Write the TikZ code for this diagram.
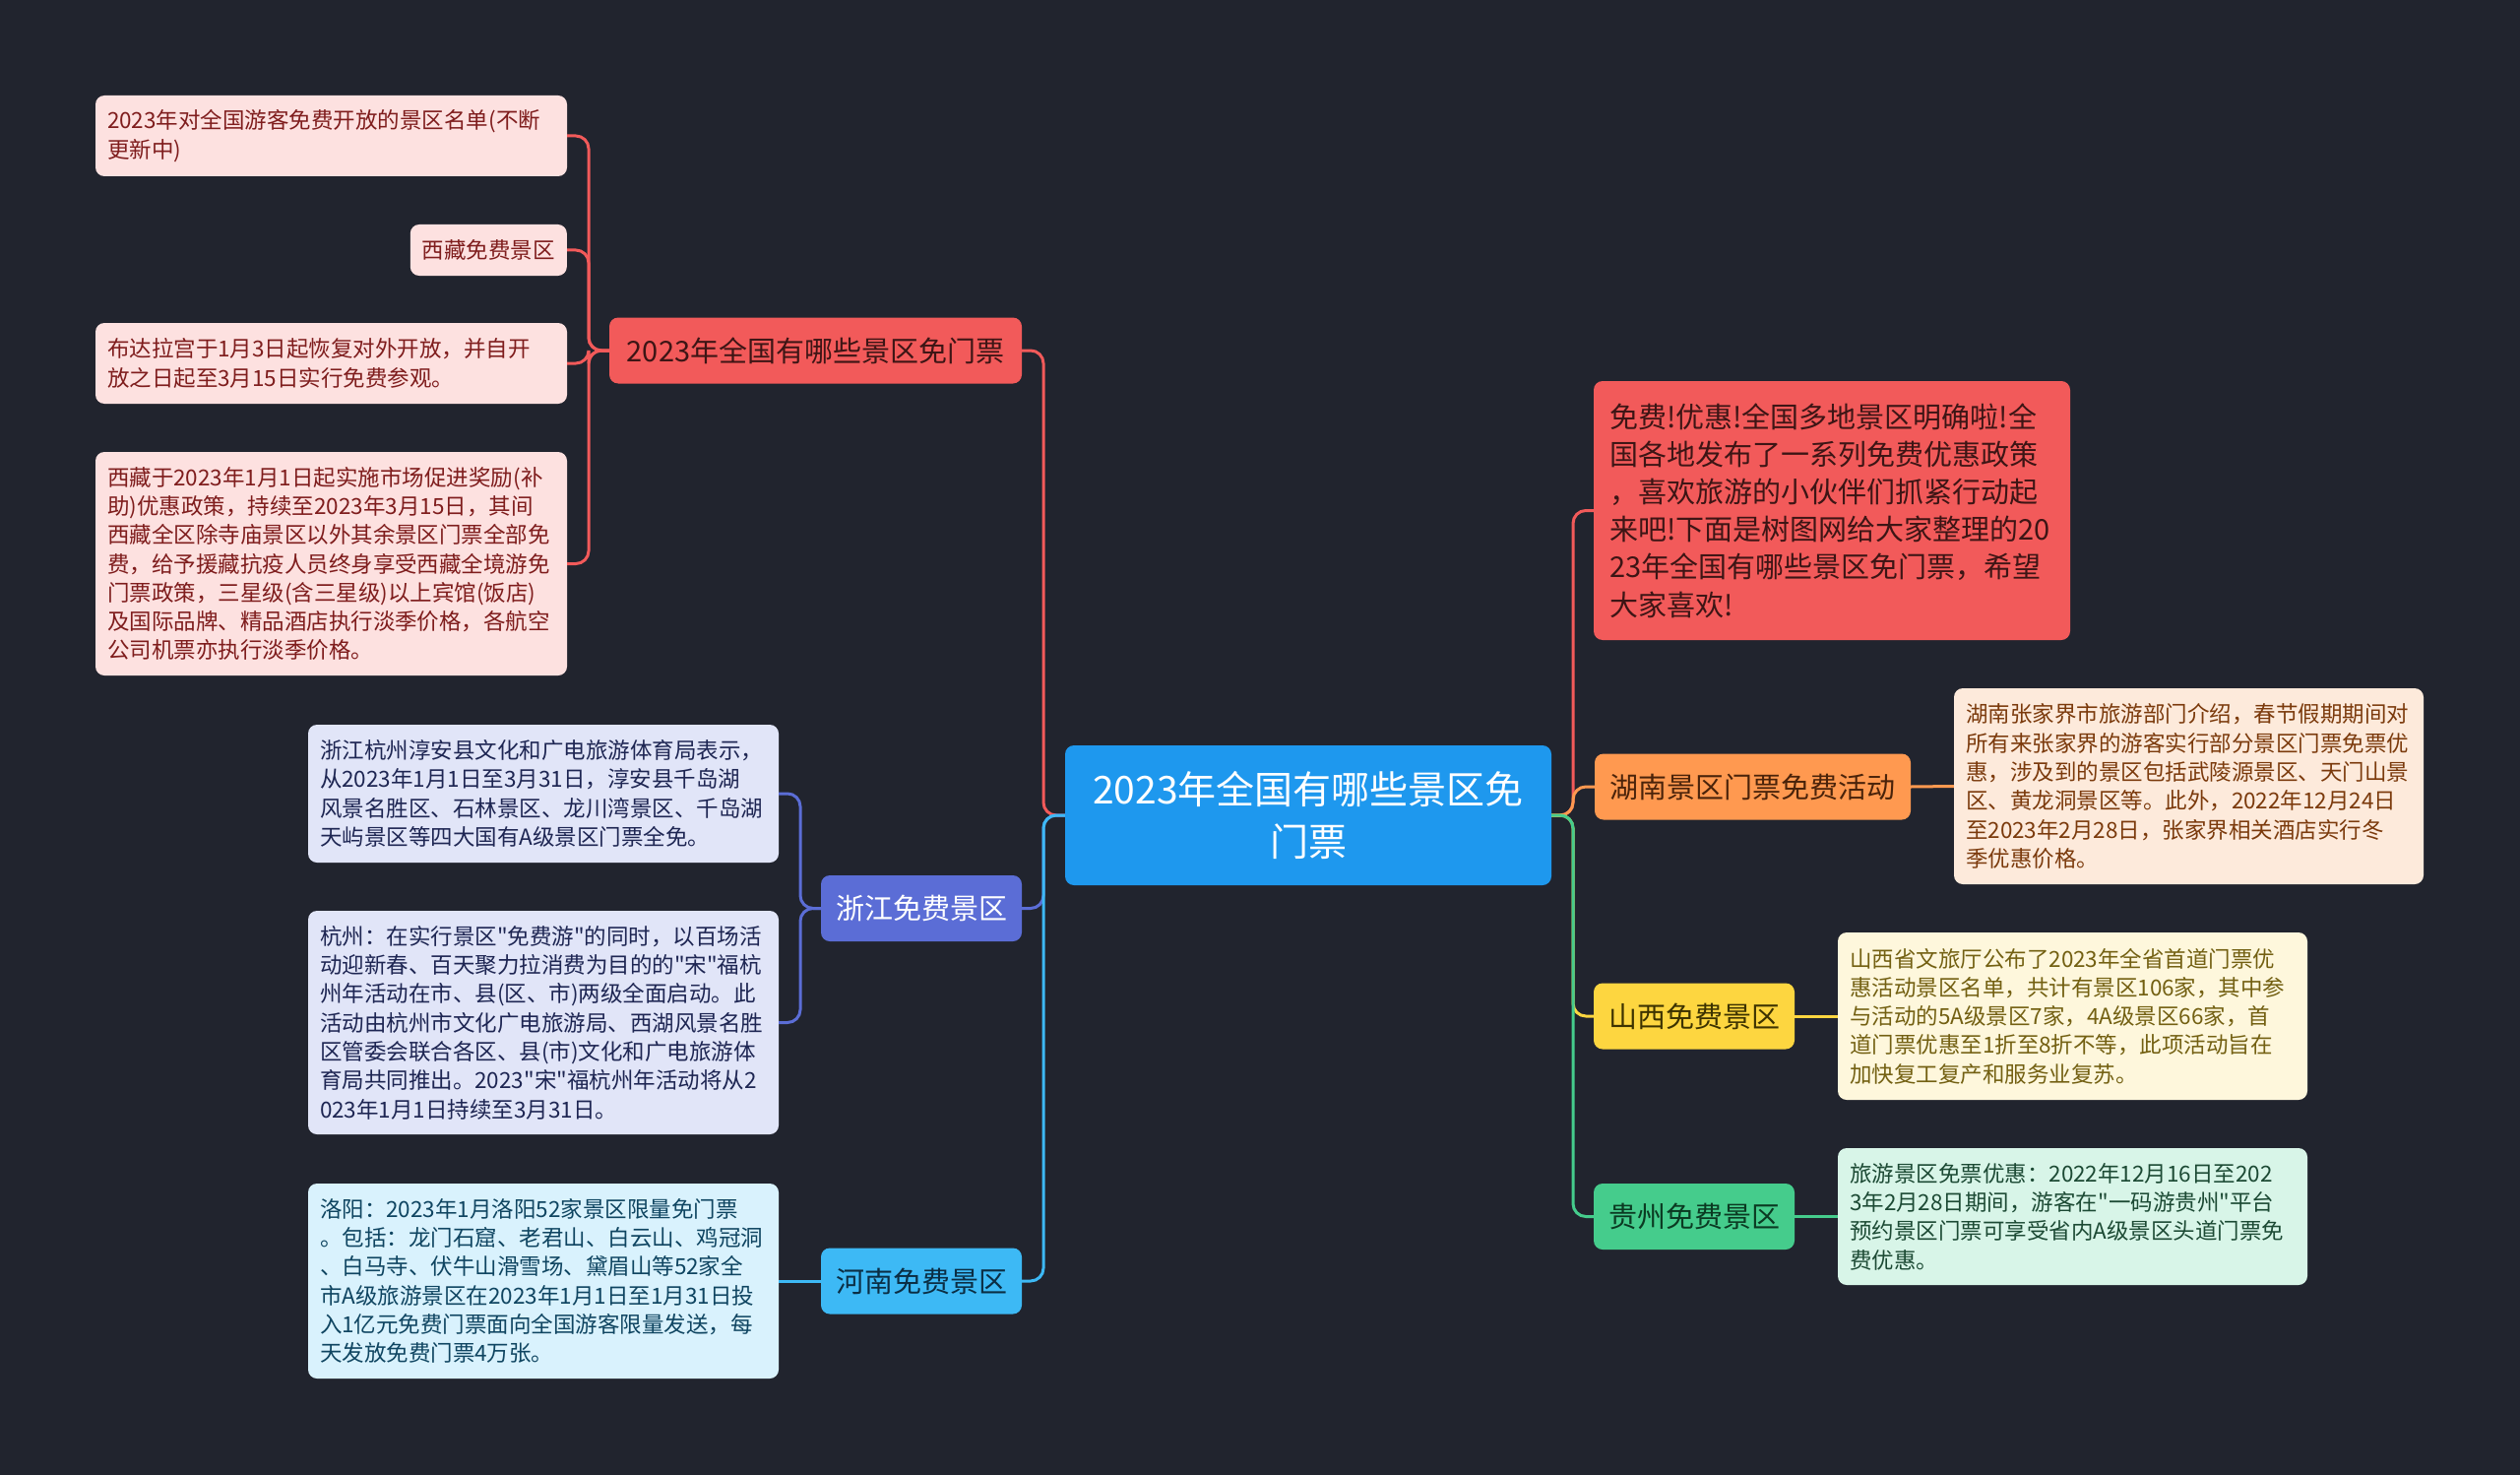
\documentclass[tikz,border=0pt]{standalone}
\usepackage{fontspec}
\setmainfont{Noto Sans CJK SC}
\newfontfamily\plainq{Noto Sans CJK SC}
\newcommand\qd{{\plainq"}}
\definecolor{bg}{HTML}{21242E}
\definecolor{rootc}{HTML}{1E98EE}
\definecolor{redc}{HTML}{F25A5A}
\definecolor{redt}{HTML}{3D1515}
\definecolor{pinkf}{HTML}{FDE1E0}
\definecolor{pinkt}{HTML}{7F1D1D}
\definecolor{indc}{HTML}{5B6DD6}
\definecolor{indf}{HTML}{E1E5F8}
\definecolor{indt}{HTML}{1E2653}
\definecolor{lbc}{HTML}{3DB9F5}
\definecolor{lbt}{HTML}{0B2E44}
\definecolor{lbf}{HTML}{D9F2FD}
\definecolor{lblt}{HTML}{0F4561}
\definecolor{orc}{HTML}{FF9950}
\definecolor{ort}{HTML}{4A230A}
\definecolor{orf}{HTML}{FDEADB}
\definecolor{orlt}{HTML}{7B3A0C}
\definecolor{yec}{HTML}{FDD640}
\definecolor{yet}{HTML}{3D3300}
\definecolor{yef}{HTML}{FEF7DC}
\definecolor{yelt}{HTML}{736012}
\definecolor{grc}{HTML}{45CC8C}
\definecolor{grt}{HTML}{0B3A22}
\definecolor{grf}{HTML}{D8F5E8}
\definecolor{grlt}{HTML}{1C4A34}
\tikzset{
  box/.style={rounded corners=9pt, inner ysep=0pt, anchor=center},
  leaf/.style={box, inner xsep=12pt, align=left, font=\fontsize{22.5}{29.3}\selectfont},
  branchbox/.style={box, inner xsep=0pt, align=center, minimum height=67pt, font=\fontsize{29}{34}\selectfont},
  link/.style={line width=3pt, rounded corners=13pt},
}
\begin{document}
\begin{tikzpicture}[x=1pt,y=-1pt]
\useasboundingbox (0,0) rectangle (2560,1498);
\fill[bg] (0,0) rectangle (2560,1498);

% root
\node[box, fill=rootc, text=white, align=center, minimum width=494pt, minimum height=142pt,
  font=\fontsize{39}{53}\selectfont] (root) at (1329,828) {2023年全国有哪些景区免\\门票};

% left branch 1
\node[branchbox, fill=redc, text=redt, minimum width=419pt] (b1) at (828.5,356) {2023年全国有哪些景区免门票};
\node[leaf, fill=pinkf, text=pinkt, text width=455pt, minimum height=82pt] (l1a) at (336.5,138)
  {2023年对全国游客免费开放的景区名单(不断\\更新中)};
\node[leaf, fill=pinkf, text=pinkt, minimum height=52pt, anchor=east] (l1b) at (576,254) {西藏免费景区};
\node[leaf, fill=pinkf, text=pinkt, text width=455pt, minimum height=82pt] (l1c) at (336.5,369)
  {布达拉宫于1月3日起恢复对外开放，并自开\\放之日起至3月15日实行免费参观。};
\node[leaf, fill=pinkf, text=pinkt, text width=455pt, minimum height=227pt] (l1d) at (336.5,572.5)
  {西藏于2023年1月1日起实施市场促进奖励(补\\助)优惠政策，持续至2023年3月15日，其间\\西藏全区除寺庙景区以外其余景区门票全部免\\费，给予援藏抗疫人员终身享受西藏全境游免\\门票政策，三星级(含三星级)以上宾馆(饭店)\\及国际品牌、精品酒店执行淡季价格，各航空\\公司机票亦执行淡季价格。};

% zhejiang
\node[branchbox, fill=indc, text=white, minimum width=204pt] (zjb) at (936,922.5) {浙江免费景区};
\node[leaf, fill=indf, text=indt, text width=454pt, minimum height=140pt] (zj1) at (552,806)
  {浙江杭州淳安县文化和广电旅游体育局表示，\\从2023年1月1日至3月31日，淳安县千岛湖\\风景名胜区、石林景区、龙川湾景区、千岛湖\\天屿景区等四大国有A级景区门票全免。};
\node[leaf, fill=indf, text=indt, text width=454pt, minimum height=227pt] (zj2) at (552,1038.5)
  {杭州：在实行景区\qd 免费游\qd 的同时，以百场活\\动迎新春、百天聚力拉消费为目的的\qd 宋\qd 福杭\\州年活动在市、县(区、市)两级全面启动。此\\活动由杭州市文化广电旅游局、西湖风景名胜\\区管委会联合各区、县(市)文化和广电旅游体\\育局共同推出。2023\qd 宋\qd 福杭州年活动将从2\\023年1月1日持续至3月31日。};

% henan
\node[branchbox, fill=lbc, text=lbt, minimum width=204pt] (hnb) at (936,1301) {河南免费景区};
\node[leaf, fill=lbf, text=lblt, text width=454pt, minimum height=198pt] (hn1) at (552,1301)
  {洛阳：2023年1月洛阳52家景区限量免门票\\。包括：龙门石窟、老君山、白云山、鸡冠洞\\、白马寺、伏牛山滑雪场、黛眉山等52家全\\市A级旅游景区在2023年1月1日至1月31日投\\入1亿元免费门票面向全国游客限量发送，每\\天发放免费门票4万张。};

% right side
\node[box, inner xsep=16pt, align=left, fill=redc, text=redt, text width=452pt, minimum height=263pt,
  font=\fontsize{29}{38.2}\selectfont] (r1) at (1861,518.5)
  {免费!优惠!全国多地景区明确啦!全\\国各地发布了一系列免费优惠政策\\，喜欢旅游的小伙伴们抓紧行动起\\来吧!下面是树图网给大家整理的20\\23年全国有哪些景区免门票，希望\\大家喜欢!};

\node[branchbox, fill=orc, text=ort, minimum width=321pt] (hub) at (1780.5,799) {湖南景区门票免费活动};
\node[leaf, fill=orf, text=orlt, text width=453pt, minimum height=199pt] (hul) at (2223.5,798.5)
  {湖南张家界市旅游部门介绍，春节假期期间对\\所有来张家界的游客实行部分景区门票免票优\\惠，涉及到的景区包括武陵源景区、天门山景\\区、黄龙洞景区等。此外，2022年12月24日\\至2023年2月28日，张家界相关酒店实行冬\\季优惠价格。};

\node[branchbox, fill=yec, text=yet, minimum width=204pt] (sxb) at (1721,1032) {山西免费景区};
\node[leaf, fill=yef, text=yelt, text width=453pt, minimum height=170pt] (sxl) at (2105.5,1032)
  {山西省文旅厅公布了2023年全省首道门票优\\惠活动景区名单，共计有景区106家，其中参\\与活动的5A级景区7家，4A级景区66家，首\\道门票优惠至1折至8折不等，此项活动旨在\\加快复工复产和服务业复苏。};

\node[branchbox, fill=grc, text=grt, minimum width=204pt] (gzb) at (1721,1235.5) {贵州免费景区};
\node[leaf, fill=grf, text=grlt, text width=453pt, minimum height=139pt] (gzl) at (2105.5,1235.5)
  {旅游景区免票优惠：2022年12月16日至202\\3年2月28日期间，游客在\qd 一码游贵州\qd 平台\\预约景区门票可享受省内A级景区头道门票免\\费优惠。};

% junction coordinates
\coordinate (LJ) at (1060,828);
\coordinate (RJ) at (1598,828);
\coordinate (b1j) at (598,356);
\coordinate (zjj) at (813,922.5);

% connectors
\draw[link, redc] (b1.west) -- (b1j) |- (l1a.east);
\draw[link, redc] (b1.west) -- (b1j) |- (l1b.east);
\draw[link, redc] (b1.west) -- (b1j) |- (l1c.east);
\draw[link, redc] (b1.west) -- (b1j) |- (l1d.east);
\draw[link, indc] (zjb.west) -- (zjj) |- (zj1.east);
\draw[link, indc] (zjb.west) -- (zjj) |- (zj2.east);
\draw[link, lbc] (hnb.west) -- (hn1.east);

\draw[link, redc] (root.west) -- (LJ) |- (b1.east);
\draw[link, indc] (root.west) -- (LJ) |- (zjb.east);
\draw[link, lbc] (root.west) -- (LJ) |- (hnb.east);

\draw[link, redc] (root.east) -- (RJ) |- (r1.west);
\draw[link, orc] (root.east) -- (RJ) |- (hub.west);
\draw[link, yec] (root.east) -- (RJ) |- (sxb.west);
\draw[link, grc] (root.east) -- (RJ) |- (gzb.west);

\draw[link, orc] (hub.east) -- (hul.west);
\draw[link, yec] (sxb.east) -- (sxl.west);
\draw[link, grc] (gzb.east) -- (gzl.west);
\end{tikzpicture}
\end{document}
